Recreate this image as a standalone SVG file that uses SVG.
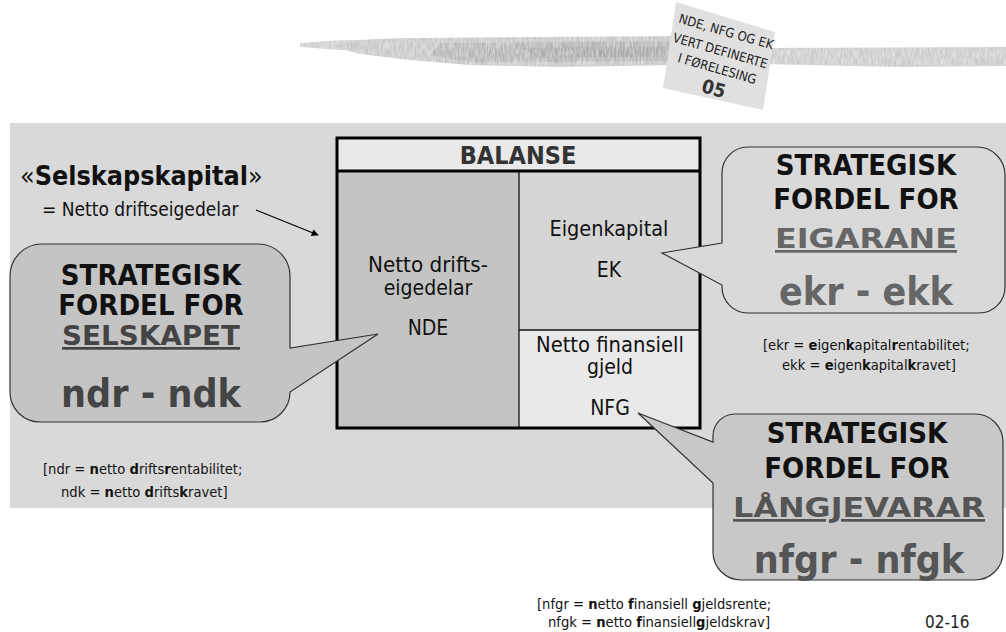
<svg xmlns="http://www.w3.org/2000/svg" width="1006" height="632" viewBox="0 0 1006 632">
  <style>
    text { font-family: 'DejaVu Sans Condensed', 'DejaVu Sans', Verdana, sans-serif; font-stretch: condensed; }
    .b { font-weight: bold; }
    .mid { text-anchor: middle; }
    .cell { font-size: 21px; fill: #111; }
    .head { font-size: 29px; font-weight: bold; fill: #111; }
    .who { font-family: 'DejaVu Sans', Verdana, sans-serif; font-stretch: normal; font-size: 27px; font-weight: bold; text-decoration: underline; }
    .rate { font-size: 39px; font-weight: bold; }
    .note { font-size: 14.6px; fill: #111; }
    .bubble { stroke: #333; stroke-width: 1.2; }
    .card { font-size: 13px; fill: #222; }
  </style>
  <defs>
    <marker id="arrow" viewBox="0 0 10 10" refX="9" refY="5" markerWidth="9" markerHeight="7" orient="auto" markerUnits="userSpaceOnUse">
      <path d="M0,0 L10,5 L0,10 Z" fill="#000"/>
    </marker>
    <filter id="grain" x="0" y="0" width="100%" height="100%">
      <feTurbulence type="fractalNoise" baseFrequency="0.6 0.12" numOctaves="2" seed="4" result="n"/>
      <feColorMatrix in="n" type="matrix" values="0 0 0 0 0  0 0 0 0 0  0 0 0 0 0  0.9 0 0 0 0.35" result="m"/>
      <feComposite in="SourceGraphic" in2="m" operator="in"/>
    </filter>
  </defs>

  <rect width="1006" height="632" fill="#fff"/>

  <!-- brush stroke across the top -->
  <g id="brush" filter="url(#grain)">
    <path d="M300,43 C330,40 360,39 390,40 L400,50 L340,50 L300,47 Z" fill="#cfcfcf"/>
    <path d="M330,46 C350,40 380,38 420,38 L680,36 L680,65 L560,67 L470,65 L410,60 L360,54 Z" fill="#c6c6c6"/>
    <path d="M440,43 L680,41 L680,61 L470,62 L430,55 Z" fill="#b4b4b4"/>
    <path d="M520,48 L680,46 L680,57 L540,58 Z" fill="#a8a8a8"/>
    <path d="M762,48 L1006,47 L1006,66 L900,67 L762,64 Z" fill="#cacaca"/>
  </g>

  <!-- sticky note -->
  <g id="note-card">
    <polygon points="676,2 775,32 763,110 663,88" fill="#e0e0e0"/>
    <text class="card mid" x="725" y="36" transform="rotate(16 725 36)">NDE, NFG OG EK</text>
    <text class="card mid" x="719" y="55" transform="rotate(16 719 55)">VERT DEFINERTE</text>
    <text class="card mid" x="716" y="73" transform="rotate(16 716 73)">I FØRELESING</text>
    <text class="b mid" x="712" y="95" font-size="19" fill="#333" transform="rotate(16 712 95)">05</text>
  </g>

  <!-- grey panel -->
  <rect id="panel" x="10" y="123" width="996" height="385" fill="#d9d9d9"/>

  <!-- Selskapskapital label -->
  <g id="label-selskapskapital">
    <text x="20" y="185" font-size="26.7" fill="#111">«<tspan class="b">Selskapskapital</tspan>»</text>
    <text x="42" y="216" font-size="19" fill="#111">= Netto driftseigedelar</text>
  </g>

  <g id="connectors">
    <line x1="256" y1="210" x2="318" y2="235" stroke="#000" stroke-width="1.2" marker-end="url(#arrow)"/>
  </g>

  <!-- balance sheet -->
  <g id="balanse">
    <rect x="337" y="171" width="182" height="257" fill="#c4c4c4"/>
    <rect x="519" y="171" width="181" height="159" fill="#d6d6d6"/>
    <rect x="519" y="330" width="181" height="98" fill="#e9e9e9"/>
    <rect x="337" y="138" width="363" height="33" fill="#e9e9e9"/>
    <line x1="519" y1="171" x2="519" y2="428" stroke="#111" stroke-width="1.3"/>
    <line x1="519" y1="330" x2="700" y2="330" stroke="#111" stroke-width="1.3"/>
    <line x1="337" y1="171" x2="700" y2="171" stroke="#000" stroke-width="3"/>
    <rect x="337" y="138" width="363" height="290" fill="none" stroke="#000" stroke-width="3"/>
    <text class="b mid" x="518" y="164" font-size="25" fill="#333">BALANSE</text>
    <text class="cell mid" x="428" y="272" textLength="120" lengthAdjust="spacingAndGlyphs">Netto drifts-</text>
    <text class="cell mid" x="428" y="295">eigedelar</text>
    <text class="cell mid" x="428" y="335">NDE</text>
    <text class="cell mid" x="609" y="236" textLength="119" lengthAdjust="spacingAndGlyphs">Eigenkapital</text>
    <text class="cell mid" x="609" y="277">EK</text>
    <text class="cell mid" x="610" y="352" textLength="148" lengthAdjust="spacingAndGlyphs">Netto finansiell</text>
    <text class="cell mid" x="610" y="374">gjeld</text>
    <text class="cell mid" x="610" y="415">NFG</text>
  </g>

  <!-- callout: company -->
  <g id="callout-selskapet">
    <path class="bubble" fill="#c4c4c4" d="M42,244 H258 A32,32 0 0 1 290,276 V348 L378,334 L290,392 A30,30 0 0 1 260,422 H40 A30,30 0 0 1 10,392 V276 A32,32 0 0 1 42,244 Z"/>
    <text class="head mid" x="151" y="285">STRATEGISK</text>
    <text class="head mid" x="151" y="315">FORDEL FOR</text>
    <text class="who mid" x="151" y="345" fill="#444" textLength="178" lengthAdjust="spacingAndGlyphs">SELSKAPET</text>
    <text class="rate mid" x="151" y="407" fill="#444">ndr - ndk</text>
  </g>

  <!-- callout: owners -->
  <g id="callout-eigarane">
    <path class="bubble" fill="#d9d9d9" d="M748,147 H977 A28,28 0 0 1 1005,175 V287 A26,26 0 0 1 979,313 H748 A26,26 0 0 1 722,287 V285 L662,253 L722,243 V173 A26,26 0 0 1 748,147 Z"/>
    <text class="head mid" x="866" y="175">STRATEGISK</text>
    <text class="head mid" x="866" y="209">FORDEL FOR</text>
    <text class="who mid" x="866" y="248" fill="#666" textLength="182" lengthAdjust="spacingAndGlyphs">EIGARANE</text>
    <text class="rate mid" x="866" y="305" fill="#666">ekr - ekk</text>
  </g>

  <!-- callout: lenders -->
  <g id="callout-langjevarar">
    <path class="bubble" fill="#c8c8c8" d="M735,414 H975 A28,28 0 0 1 1003,442 V552 A28,28 0 0 1 975,580 H741 A28,28 0 0 1 713,552 V483 L638,413 L713,442 V436 A22,22 0 0 1 735,414 Z"/>
    <text class="head mid" x="857" y="443">STRATEGISK</text>
    <text class="head mid" x="857" y="478">FORDEL FOR</text>
    <text class="who mid" x="859" y="517" fill="#555" textLength="252" lengthAdjust="spacingAndGlyphs">LÅNGJEVARAR</text>
    <text class="rate mid" x="859" y="573" fill="#555">nfgr - nfgk</text>
  </g>

  <!-- definitions -->
  <g id="def-ndr">
    <text class="note" x="43" y="474">[ndr = <tspan class="b">n</tspan>etto <tspan class="b">d</tspan>rifts<tspan class="b">r</tspan>entabilitet;</text>
    <text class="note" x="61" y="497">ndk = <tspan class="b">n</tspan>etto <tspan class="b">d</tspan>rifts<tspan class="b">k</tspan>ravet]</text>
  </g>
  <g id="def-ekr">
    <text class="note" x="763" y="350">[ekr = <tspan class="b">e</tspan>igen<tspan class="b">k</tspan>apital<tspan class="b">r</tspan>entabilitet;</text>
    <text class="note" x="782" y="370">ekk = <tspan class="b">e</tspan>igen<tspan class="b">k</tspan>apital<tspan class="b">k</tspan>ravet]</text>
  </g>
  <g id="def-nfgr">
    <text class="note" x="537" y="609">[nfgr = <tspan class="b">n</tspan>etto <tspan class="b">f</tspan>inansiell <tspan class="b">g</tspan>jeldsrente;</text>
    <text class="note" x="548" y="627">nfgk = <tspan class="b">n</tspan>etto <tspan class="b">f</tspan>inansiell<tspan class="b">g</tspan>jeldskrav]</text>
  </g>

  <text id="page-number" x="925" y="628" font-size="17" fill="#222">02-16</text>
</svg>
